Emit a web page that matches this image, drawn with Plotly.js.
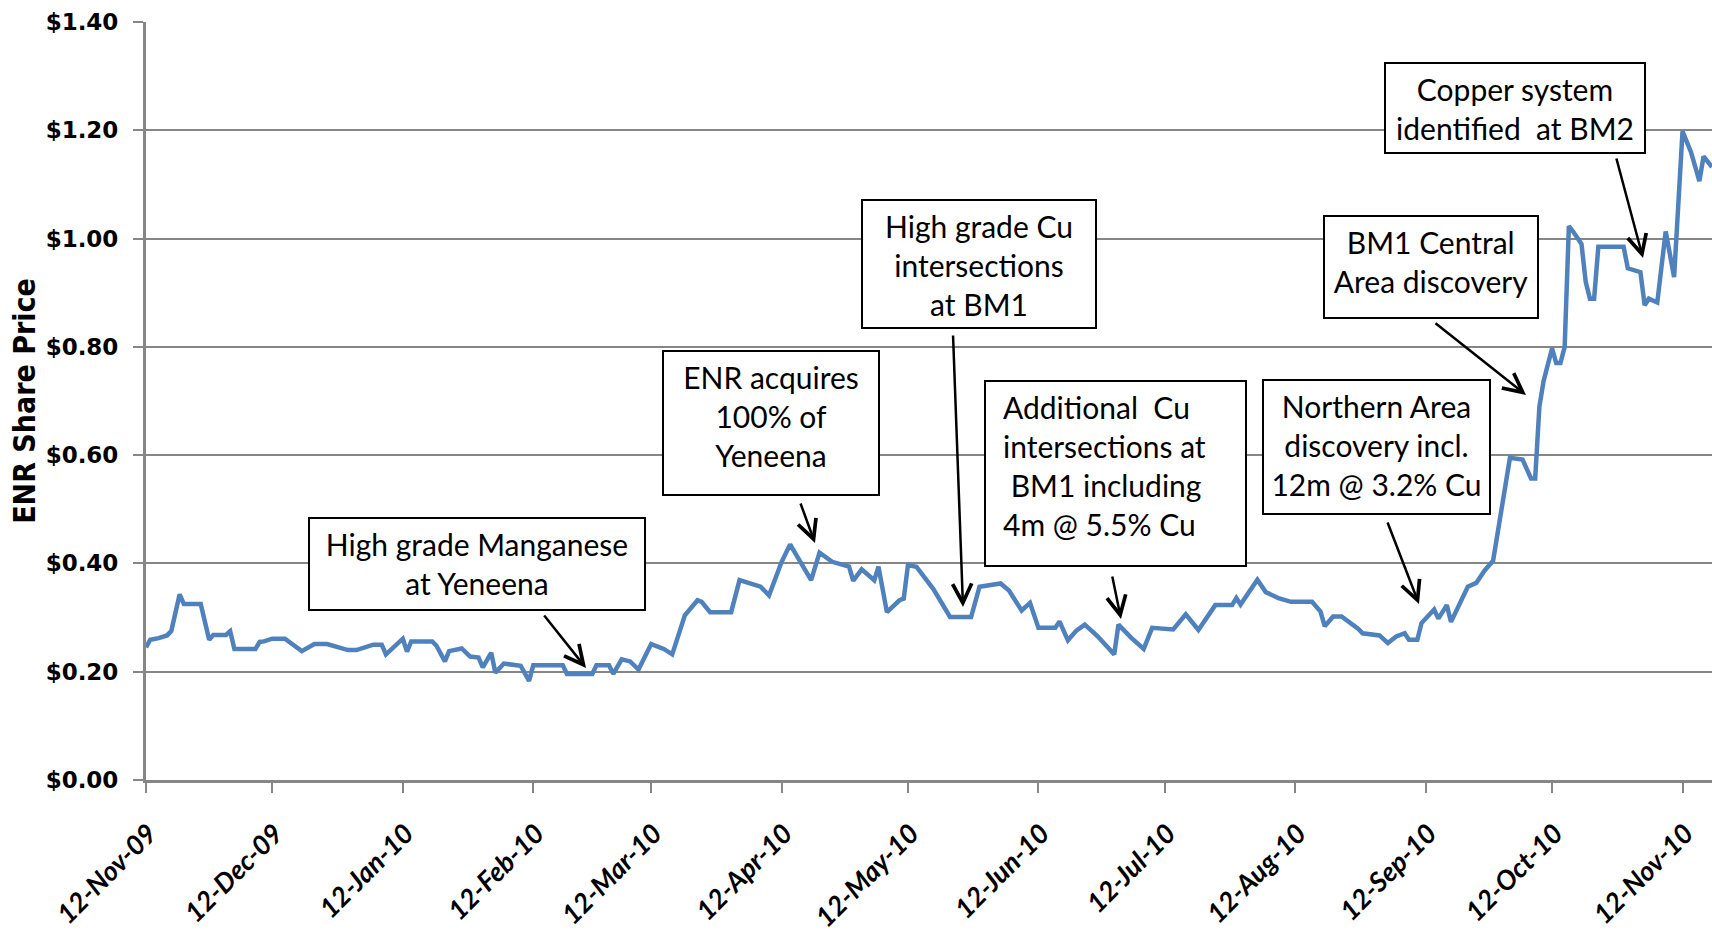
<!DOCTYPE html>
<html>
<head>
<meta charset="utf-8">
<script src="https://cdn.plot.ly/plotly-3.0.1.min.js"></script>
<style>
  html, body { margin: 0; padding: 0; background: #fff; }
  #chart { width: 1712px; height: 932px; }
</style>
</head>
<body>
<div id="chart"></div>
<script>
// ---- Data ----
const dates = [
  '2009-11-12','2009-11-13','2009-11-15','2009-11-17','2009-11-18','2009-11-20','2009-11-21','2009-11-25','2009-11-27','2009-11-28',
  '2009-12-01','2009-12-02','2009-12-03','2009-12-08','2009-12-09','2009-12-10','2009-12-12','2009-12-15','2009-12-19','2009-12-22',
  '2009-12-25','2009-12-30','2010-01-01','2010-01-05','2010-01-07','2010-01-08','2010-01-12','2010-01-13','2010-01-14','2010-01-19',
  '2010-01-20','2010-01-22','2010-01-23','2010-01-26','2010-01-28','2010-01-30','2010-01-31','2010-02-02','2010-02-03','2010-02-05',
  '2010-02-09','2010-02-11','2010-02-12','2010-02-19','2010-02-20','2010-02-26','2010-02-27','2010-03-02','2010-03-03','2010-03-05',
  '2010-03-07','2010-03-09','2010-03-12','2010-03-15','2010-03-17','2010-03-20','2010-03-23','2010-03-24','2010-03-26','2010-03-31',
  '2010-04-02','2010-04-05','2010-04-07','2010-04-09','2010-04-12','2010-04-14','2010-04-17','2010-04-19','2010-04-21','2010-04-24',
  '2010-04-28','2010-04-29','2010-05-01','2010-05-04','2010-05-05','2010-05-07','2010-05-10','2010-05-11','2010-05-12','2010-05-14',
  '2010-05-18','2010-05-20','2010-05-22','2010-05-27','2010-05-29','2010-06-03','2010-06-05','2010-06-08','2010-06-10','2010-06-12',
  '2010-06-16','2010-06-17','2010-06-19','2010-06-21','2010-06-23','2010-06-26','2010-06-30','2010-07-01','2010-07-04','2010-07-07',
  '2010-07-09','2010-07-14','2010-07-17','2010-07-20','2010-07-24','2010-07-28','2010-07-29','2010-07-30','2010-08-03','2010-08-05',
  '2010-08-08','2010-08-11','2010-08-16','2010-08-18','2010-08-19','2010-08-21','2010-08-23','2010-08-27','2010-08-28','2010-09-01',
  '2010-09-03','2010-09-05','2010-09-07','2010-09-08','2010-09-10','2010-09-11','2010-09-14','2010-09-15','2010-09-17','2010-09-18',
  '2010-09-22','2010-09-24','2010-09-26','2010-09-28','2010-09-30','2010-10-02','2010-10-05','2010-10-06','2010-10-07','2010-10-08',
  '2010-10-09','2010-10-10','2010-10-12','2010-10-13','2010-10-14','2010-10-15','2010-10-16','2010-10-17','2010-10-19','2010-10-20',
  '2010-10-21','2010-10-22','2010-10-23','2010-10-29','2010-10-30','2010-11-02','2010-11-03','2010-11-04','2010-11-06','2010-11-08',
  '2010-11-10','2010-11-12','2010-11-14','2010-11-16','2010-11-17','2010-11-19'
];
const prices = [
  0.245,0.259,0.262,0.267,0.275,0.343,0.325,0.325,0.259,0.268,
  0.268,0.275,0.242,0.242,0.255,0.256,0.261,0.261,0.238,0.251,
  0.251,0.240,0.240,0.250,0.250,0.232,0.261,0.237,0.256,0.256,
  0.248,0.219,0.238,0.243,0.228,0.226,0.208,0.235,0.198,0.215,
  0.211,0.183,0.212,0.212,0.196,0.196,0.212,0.212,0.196,0.223,
  0.219,0.204,0.251,0.242,0.232,0.304,0.332,0.329,0.310,0.310,
  0.369,0.363,0.357,0.341,0.403,0.435,0.394,0.369,0.420,0.403,
  0.394,0.368,0.389,0.369,0.394,0.310,0.332,0.335,0.397,0.394,
  0.353,0.325,0.301,0.301,0.357,0.363,0.350,0.313,0.327,0.281,
  0.281,0.293,0.258,0.276,0.287,0.266,0.232,0.287,0.263,0.242,
  0.281,0.278,0.306,0.277,0.323,0.323,0.336,0.324,0.370,0.347,
  0.336,0.329,0.329,0.311,0.284,0.302,0.302,0.279,0.271,0.267,
  0.253,0.265,0.271,0.259,0.259,0.290,0.315,0.298,0.323,0.292,
  0.357,0.364,0.387,0.405,0.500,0.595,0.592,0.576,0.557,0.557,
  0.690,0.737,0.797,0.770,0.770,0.800,1.023,1.013,0.990,0.920,
  0.889,0.889,0.985,0.985,0.945,0.938,0.877,0.889,0.882,1.013,
  0.929,1.198,1.160,1.106,1.152,1.132
];
const tickDates = ['2009-11-12','2009-12-12','2010-01-12','2010-02-12','2010-03-12','2010-04-12',
  '2010-05-12','2010-06-12','2010-07-12','2010-08-12','2010-09-12','2010-10-12','2010-11-12'];
const tickLabels = ['12-Nov-09','12-Dec-09','12-Jan-10','12-Feb-10','12-Mar-10','12-Apr-10',
  '12-May-10','12-Jun-10','12-Jul-10','12-Aug-10','12-Sep-10','12-Oct-10','12-Nov-10'];
const yTickValues = [0, 0.2, 0.4, 0.6, 0.8, 1.0, 1.2, 1.4];
const yTickLabels = ['$0.00','$0.20','$0.40','$0.60','$0.80','$1.00','$1.20','$1.40'];
const yAxisTitle = 'ENR Share Price';
const eventTexts = [
  'High grade Manganese<br>at Yeneena',
  'ENR acquires<br>100% of<br>Yeneena',
  'High grade Cu<br>intersections<br>at BM1',
  'Additional\u00a0 Cu<br>intersections at<br>\u00a0BM1 including<br>4m @ 5.5% Cu',
  'Northern Area<br>discovery incl.<br>12m @ 3.2% Cu',
  'BM1 Central<br>Area discovery',
  'Copper system<br>identified\u00a0 at BM2'
];

// ---- Layout helpers (pixel geometry of the boxes / arrows) ----
const PL = 146, PW = 1566, PT = 22, PH = 758;
const px = v => (v - PL) / PW;
const py = v => (PT + PH - v) / PH;
const BW = 2, BP = 7;
const boxFont = {family: 'Lato, "Open Sans", sans-serif', size: 30, color: '#000'};

// box: left, top, right, bottom in page pixels; textLeft = left-aligned text start (if any)
const boxGeom = [
  {l: 308, t: 517, r: 646, b: 611},
  {l: 662, t: 350, r: 880, b: 496},
  {l: 861, t: 199, r: 1097, b: 329},
  {l: 984, t: 380, r: 1247, b: 567, textLeft: 1001},
  {l: 1262, t: 379, r: 1491, b: 515},
  {l: 1323, t: 215, r: 1539, b: 319},
  {l: 1384, t: 62, r: 1646, b: 154}
];
// arrows: tail (tx,ty) -> head (hx,hy) in page pixels
const arrowGeom = [
  {tx: 543, ty: 614, hx: 586, hy: 668},
  {tx: 800, ty: 502, hx: 815, hy: 543},
  {tx: 953, ty: 334, hx: 963, hy: 607},
  {tx: 1112, ty: 575, hx: 1121, hy: 619},
  {tx: 1387, ty: 521, hx: 1419, hy: 604},
  {tx: 1434, ty: 322, hx: 1526, hy: 395},
  {tx: 1616, ty: 157, hx: 1643, hy: 258}
];

const annotations = [];
const shapes = [];
eventTexts.forEach((txt, i) => {
  const g = boxGeom[i];
  if (g.textLeft) {
    shapes.push({
      type: 'rect', xref: 'paper', yref: 'paper', layer: 'above',
      x0: px(g.l + 1), x1: px(g.r - 1), y0: py(g.b - 1), y1: py(g.t + 1),
      line: {color: '#000', width: BW}, fillcolor: '#ffffff'
    });
    annotations.push({
      xref: 'paper', yref: 'paper', x: px(g.textLeft), y: py(g.t + 7),
      xanchor: 'left', yanchor: 'top', showarrow: false,
      text: txt, align: 'left', font: boxFont
    });
  } else {
    annotations.push({
      xref: 'paper', yref: 'paper', x: px(g.l), y: py(g.t),
      xanchor: 'left', yanchor: 'top', showarrow: false,
      text: txt, align: 'center', valign: 'top',
      width: (g.r - g.l) - 2 * (BW + BP), height: (g.b - g.t) - 2 * (BW + BP),
      bordercolor: '#000', borderwidth: BW, borderpad: BP, bgcolor: '#ffffff',
      font: boxFont
    });
  }
});
arrowGeom.forEach(a => {
  annotations.push({
    xref: 'paper', yref: 'paper', x: px(a.hx), y: py(a.hy),
    axref: 'pixel', ayref: 'pixel', ax: a.tx - a.hx, ay: a.ty - a.hy,
    text: '', showarrow: true, arrowhead: 5, arrowsize: 1.5, arrowwidth: 2.5,
    arrowcolor: '#000', standoff: 0, startstandoff: 0
  });
});

const trace = {
  x: dates, y: prices, type: 'scatter', mode: 'lines',
  line: {color: '#4f81bd', width: 4.5}, hoverinfo: 'x+y'
};

const layout = {
  width: 1712, height: 932,
  margin: {l: PL, r: 0, t: PT, b: 932 - PT - PH},
  paper_bgcolor: '#ffffff', plot_bgcolor: '#ffffff',
  showlegend: false,
  xaxis: {
    type: 'date', range: ['2009-11-12', '2010-11-19'],
    tickmode: 'array', tickvals: tickDates, ticktext: tickLabels,
    tickangle: -45, showgrid: false, zeroline: false,
    showline: true, linecolor: '#868686', linewidth: 3,
    ticks: 'outside', ticklen: 10, tickwidth: 2, tickcolor: '#868686',
    ticklabelstandoff: 14, ticklabelshift: 3,
    tickfont: {family: 'Lato, sans-serif', size: 27, weight: 700, style: 'italic', color: '#000'}
  },
  yaxis: {
    range: [0, 1.4], tickmode: 'array', tickvals: yTickValues, ticktext: yTickLabels,
    showgrid: true, gridcolor: '#868686', gridwidth: 2, zeroline: false,
    showline: true, linecolor: '#868686', linewidth: 3,
    ticks: 'outside', ticklen: 10, tickwidth: 2, tickcolor: '#868686',
    ticklabelstandoff: 10,
    tickfont: {family: '"DejaVu Sans", Verdana, sans-serif', size: 23, weight: 700, color: '#000'},
    title: {text: yAxisTitle, standoff: 2,
      font: {family: '"DejaVu Sans Condensed", "Liberation Sans", sans-serif', size: 30, weight: 700, color: '#000'}}
  },
  shapes: shapes,
  annotations: annotations
};

Plotly.newPlot('chart', [trace], layout, {displayModeBar: false, staticPlot: true});
</script>
</body>
</html>
